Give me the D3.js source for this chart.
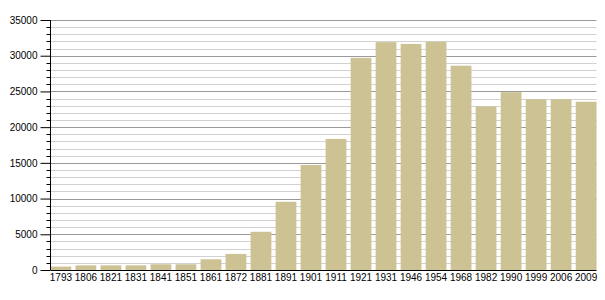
<!DOCTYPE html>
<html>
<head>
<meta charset="utf-8">
<script src="https://cdn.jsdelivr.net/npm/d3@7"></script>
<style>
  body { margin: 0; background: #fff; }
  svg { display: block; font-family: "Liberation Sans", Arial, sans-serif; }
</style>
</head>
<body>
<div id="chart"></div>
<script>
// data
const years = ['1793', '1806', '1821', '1831', '1841', '1851', '1861', '1872', '1881', '1891', '1901',
  '1911', '1921', '1931', '1946', '1954', '1968', '1982', '1990', '1999', '2006', '2009'];
const population = [480, 650, 650, 650, 800, 800, 1500, 2250, 5350, 9550, 14700,
  18350, 29700, 31900, 31650, 31950, 28600, 22900, 24900, 23900, 23900, 23550];
const majorTicks = [0, 5000, 10000, 15000, 20000, 25000, 30000, 35000];

// settings
const width = 605;
const height = 300;
const plot = { left: 50.5, right: 596.5, top: 20, bottom: 270 };
const font = '"Liberation Sans", Arial, sans-serif';

const svg = d3.select('#chart')
  .append('svg')
  .attr('width', width)
  .attr('height', height);

const x = d3.scaleBand()
  .domain(years)
  .range([plot.left, plot.right])
  .paddingInner(0.17)
  .paddingOuter(0);

const y = d3.scaleLinear()
  .domain([0, 35000])
  .range([plot.bottom, plot.top]);

const minorTicks = d3.range(0, 35001, 1000).filter(v => v % 5000 !== 0);

// grid lines
svg.append('g')
  .selectAll('line')
  .data(minorTicks)
  .join('line')
  .attr('x1', plot.left)
  .attr('x2', plot.right)
  .attr('y1', d => Math.round(y(d)) + 0.5)
  .attr('y2', d => Math.round(y(d)) + 0.5)
  .attr('stroke', '#d2d2d2')
  .attr('stroke-width', 1);

svg.append('g')
  .selectAll('line')
  .data(majorTicks.filter(d => d > 0))
  .join('line')
  .attr('x1', plot.left)
  .attr('x2', plot.right)
  .attr('y1', d => Math.round(y(d)) + 0.5)
  .attr('y2', d => Math.round(y(d)) + 0.5)
  .attr('stroke', '#9a9a9a')
  .attr('stroke-width', 1);

// bars
svg.append('g')
  .selectAll('rect')
  .data(population)
  .join('rect')
  .attr('x', (d, i) => x(years[i]))
  .attr('y', d => y(d))
  .attr('width', x.bandwidth())
  .attr('height', d => y(0) - y(d))
  .attr('fill', '#ccc294');

// y axis
const yAxis = svg.append('g')
  .attr('transform', `translate(${plot.left},0)`);

yAxis.call(d3.axisLeft(y).tickValues(majorTicks).tickSize(10).tickPadding(3).tickFormat(d3.format('d')))
  .call(g => g.selectAll('text').attr('font-size', 10).attr('fill', '#000').attr('font-family', font))
  .call(g => g.selectAll('line').attr('stroke', '#000'))
  .call(g => g.select('.domain').attr('stroke', '#000').attr('d', `M0,${plot.top}V${plot.bottom}`));

yAxis.selectAll('.minor')
  .data(minorTicks)
  .join('line')
  .attr('class', 'minor')
  .attr('x1', -4)
  .attr('x2', 0)
  .attr('y1', d => Math.round(y(d)) + 0.5)
  .attr('y2', d => Math.round(y(d)) + 0.5)
  .attr('stroke', '#000');

// x axis
const xAxis = svg.append('g')
  .attr('transform', `translate(0,${plot.bottom})`);

xAxis.call(d3.axisBottom(x).tickSize(0).tickPadding(4))
  .call(g => g.selectAll('text').attr('font-size', 10).attr('fill', '#000').attr('font-family', font))
  .call(g => g.select('.domain').attr('stroke', '#000').attr('d', `M${plot.left},0.5H${plot.right}`));
</script>
</body>
</html>
